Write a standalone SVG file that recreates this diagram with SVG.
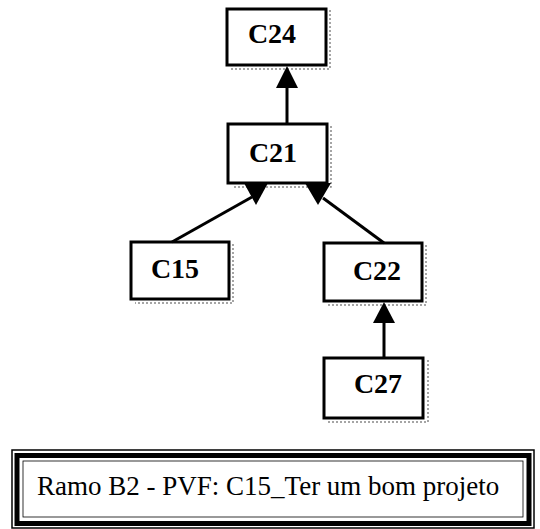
<svg xmlns="http://www.w3.org/2000/svg" width="540" height="529" viewBox="0 0 540 529">
  <style>
    .box { fill: #ffffff; stroke: #000000; stroke-width: 3; }
    .shadow { fill: none; stroke: #888888; stroke-width: 1.5; stroke-dasharray: 2 2; }
    .lbl { font-family: "Liberation Serif", "Times New Roman", serif; font-weight: bold; font-size: 28px; fill: #000000; }
    .edge { stroke: #000000; stroke-width: 3; fill: none; }
    .head { fill: #000000; stroke: none; }
    .cap { font-family: "Liberation Serif", "Times New Roman", serif; font-size: 27px; fill: #000000; }
  </style>

  <g id="C24">
    <polyline class="shadow" points="330,10 330,69 230,69"/>
    <rect class="box" x="227" y="9" width="99" height="56"/>
    <text class="lbl" x="272" y="43" text-anchor="middle">C24</text>
  </g>

  <g id="C21">
    <polyline class="shadow" points="331,126 331,187 232,187"/>
    <rect class="box" x="228" y="124" width="99" height="59"/>
    <text class="lbl" x="273" y="162" text-anchor="middle">C21</text>
  </g>

  <g id="C15">
    <polyline class="shadow" points="233,244 233,303 135,303"/>
    <rect class="box" x="131" y="242" width="98" height="57"/>
    <text class="lbl" x="175" y="278" text-anchor="middle">C15</text>
  </g>

  <g id="C22">
    <polyline class="shadow" points="426,245 426,305 328,305"/>
    <rect class="box" x="324" y="243" width="98" height="58"/>
    <text class="lbl" x="377" y="280" text-anchor="middle">C22</text>
  </g>

  <g id="C27">
    <polyline class="shadow" points="428,360 428,422 328,422"/>
    <rect class="box" x="324" y="358" width="99" height="60"/>
    <text class="lbl" x="378" y="393" text-anchor="middle">C27</text>
  </g>

  <g id="connectors">
    <line class="edge" x1="287" y1="86" x2="287" y2="124"/>
    <polygon class="head" points="276,88 298,88 287,66"/>
    <line class="edge" x1="172" y1="242" x2="252" y2="197"/>
    <polygon class="head" points="244,183 268,183 256,205"/>
    <line class="edge" x1="384" y1="243" x2="323" y2="198"/>
    <polygon class="head" points="305,183 331,183 318,205"/>
    <line class="edge" x1="384" y1="320" x2="384" y2="358"/>
    <polygon class="head" points="373,323 395,323 384,302"/>
  </g>

  <g id="caption">
    <rect x="12" y="450" width="522" height="78" fill="#ffffff" stroke="#000000" stroke-width="1.5"/>
    <rect x="17" y="455.5" width="512" height="68" fill="none" stroke="#000000" stroke-width="5"/>
    <rect x="23" y="461" width="500" height="56" fill="none" stroke="#000000" stroke-width="0.8"/>
    <text class="cap" x="37" y="495">Ramo B2 - PVF: C15_Ter um bom projeto</text>
  </g>
</svg>
